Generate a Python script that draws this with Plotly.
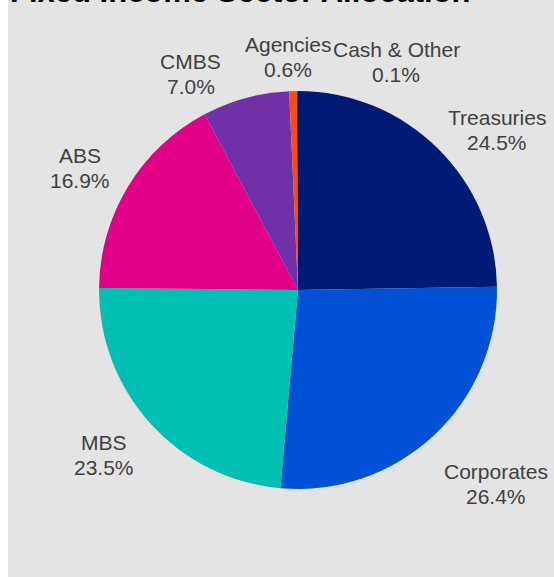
import math
import plotly.graph_objects as go

# Sector weights (% of portfolio)
sectors = ["Treasuries", "Corporates", "MBS", "ABS", "CMBS", "Agencies", "Cash & Other"]
weights = [24.5, 26.4, 23.5, 16.9, 7.0, 0.6, 0.1]
colors = ["#001b76", "#0051d8", "#00c0b4", "#e2008b", "#7030a8", "#fe4a10", "#3c3c50"]

title_text = "Fixed Income Sector Allocation"

# Canvas and pie geometry (pixels)
W, H = 554, 577
CX, CY, R = 298, 290, 199
bg = "#e4e4e4"
FONT = "Arial, Liberation Sans, sans-serif"
LABEL_SIZE = 21
LINE_GAP = 25

# Label placement: angular nudge (deg) from the slice mid-angle and distance from centre (px)
label_place = [(6.7, 255), (-2.7, 277), (1.8, 255), (-2.1, 250), (-11.1, 241), (-1.0, 233), (23.5, 248)]


def px(x):
    return x / W


def py(y):
    return 1 - y / H


fig = go.Figure(
    go.Pie(
        labels=sectors,
        values=weights,
        sort=False,
        direction="clockwise",
        rotation=0,
        marker=dict(colors=colors, line=dict(width=0)),
        textinfo="none",
        hoverinfo="label+value",
        showlegend=False,
        domain=dict(x=[px(CX - R), px(CX + R)], y=[py(CY + R), py(CY - R)]),
    )
)

# Slice labels, placed around the pie from each slice's mid-angle
annotations = []
total = sum(weights)
cum = 0.0
for name, val, (nudge, dist) in zip(sectors, weights, label_place):
    mid = (cum + val / 2) / total * 360
    cum += val
    ang = math.radians(mid + nudge)
    lx = CX + dist * math.sin(ang)
    ly = CY - dist * math.cos(ang)
    for text, dy in ((name, -LINE_GAP / 2), (f"{val:.1f}%", LINE_GAP / 2)):
        annotations.append(dict(
            text=text, xref="paper", yref="paper", x=px(lx), y=py(ly + dy),
            xanchor="center", yanchor="middle", showarrow=False,
            font=dict(family=FONT, size=LABEL_SIZE, color="#404040"),
        ))

annotations.append(dict(
    text="<b>" + title_text + "</b>", xref="paper", yref="paper",
    x=px(8), y=py(11), xanchor="left", yanchor="bottom", showarrow=False,
    font=dict(family=FONT, size=31, color="#000000"),
))

fig.update_layout(
    width=W,
    height=H,
    margin=dict(l=0, r=0, t=0, b=0),
    paper_bgcolor=bg,
    plot_bgcolor=bg,
    shapes=[
        dict(type="rect", xref="paper", yref="paper", x0=0, x1=px(8), y0=0, y1=1,
             fillcolor="white", line=dict(width=0), layer="below"),
    ],
    annotations=annotations,
)

fig.write_html("out.html")
